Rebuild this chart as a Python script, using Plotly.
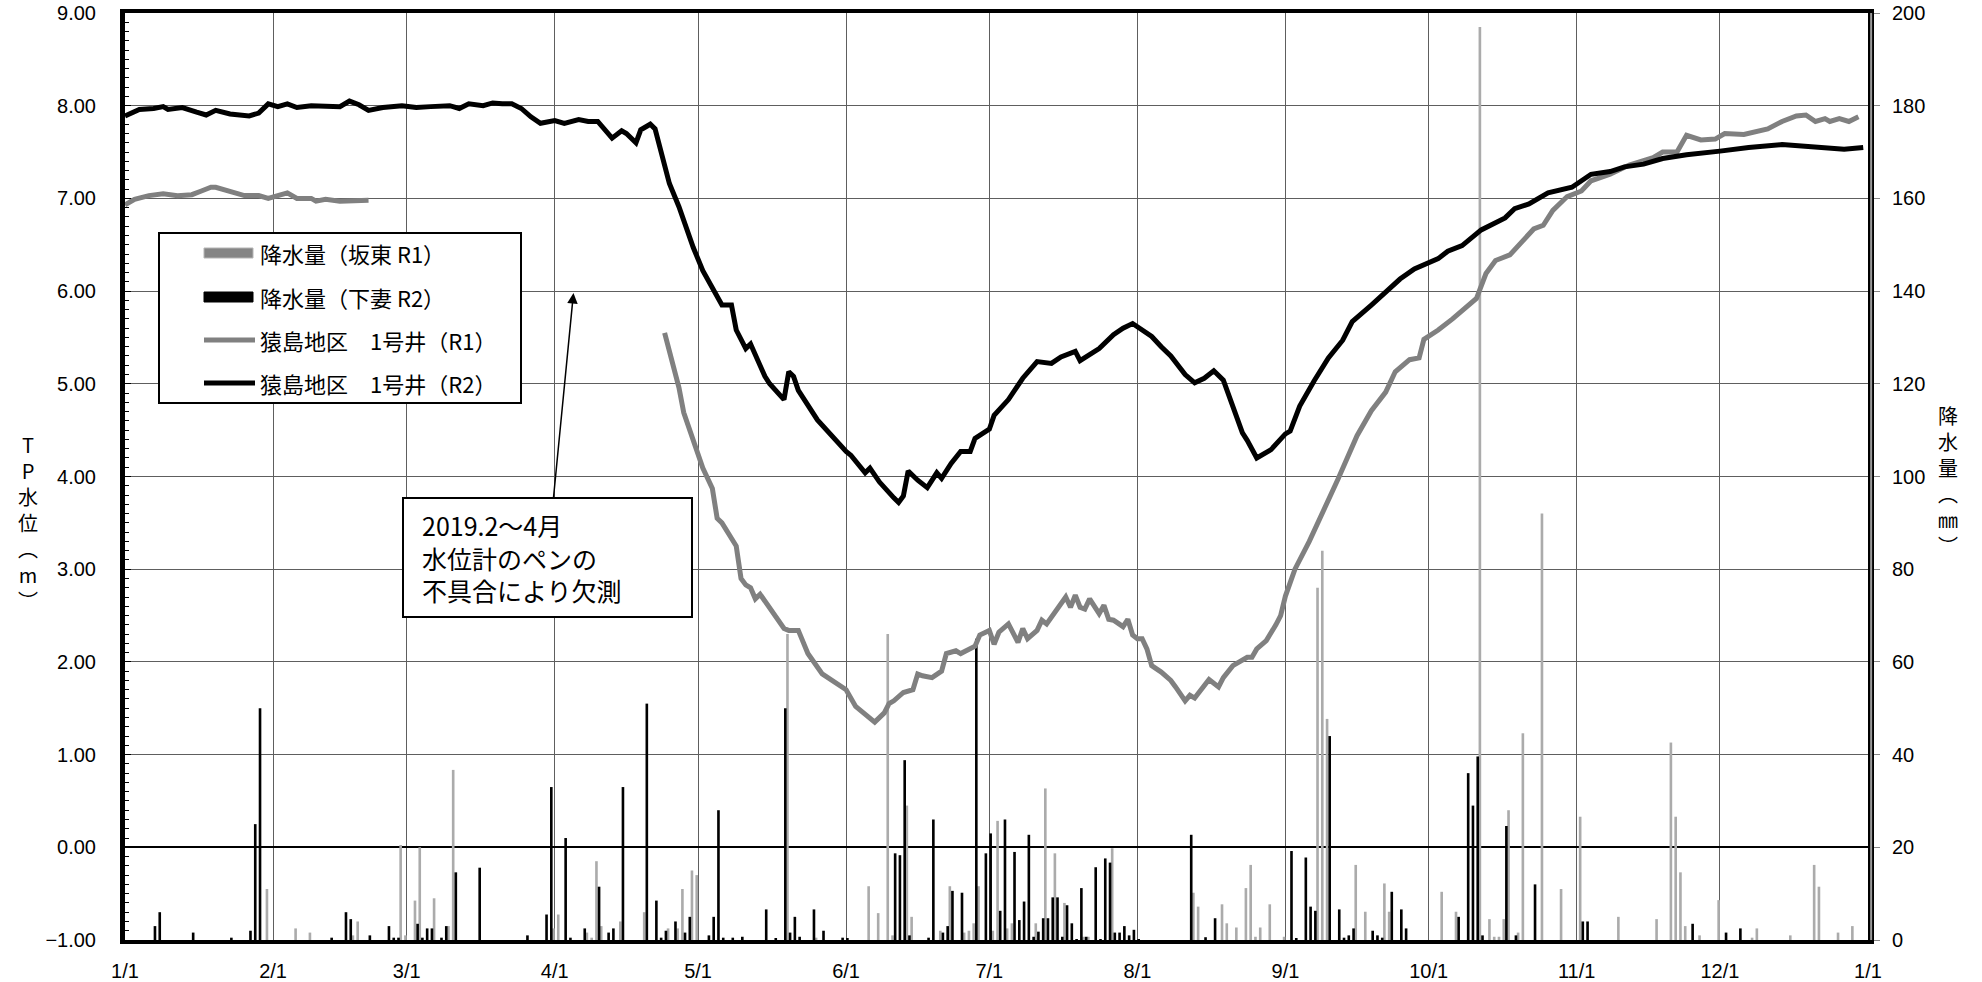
import plotly.graph_objects as go

YEAR = '2019-'
DAY = 86400000

# 猿島地区 1号井 (R2) - black line
r2_days = ['01-01', '01-04', '01-07', '01-09', '01-10', '01-13', '01-16', '01-18', '01-20', '01-23',
           '01-27', '01-29', '01-31', '02-02', '02-04', '02-06', '02-09', '02-12', '02-15', '02-17',
           '02-19', '02-21', '02-24', '02-28', '03-03', '03-06', '03-10', '03-12', '03-14', '03-17',
           '03-19', '03-21', '03-23', '03-25', '03-27', '03-29', '04-01', '04-03', '04-06', '04-08',
           '04-10', '04-13', '04-15', '04-16', '04-18', '04-19', '04-21', '04-22', '04-23', '04-25',
           '04-27', '04-30', '05-02', '05-06', '05-08', '05-09', '05-11', '05-12', '05-15', '05-16',
           '05-19', '05-20', '05-21', '05-22', '05-26', '05-28', '06-01', '06-02', '06-05', '06-06',
           '06-08', '06-11', '06-12', '06-13', '06-14', '06-16', '06-18', '06-20', '06-21', '06-23',
           '06-25', '06-27', '06-28', '07-01', '07-02', '07-05', '07-08', '07-11', '07-14', '07-16',
           '07-19', '07-20', '07-24', '07-27', '07-29', '07-31', '08-04', '08-06', '08-08', '08-11',
           '08-13', '08-15', '08-17', '08-19', '08-21', '08-23', '08-24', '08-26', '08-29', '09-01',
           '09-02', '09-04', '09-07', '09-10', '09-13', '09-15', '09-19', '09-23', '09-25', '09-28',
           '10-03', '10-05', '10-08', '10-12', '10-17', '10-19', '10-22', '10-26', '10-31', '11-04',
           '11-08', '11-11', '11-15', '11-19', '11-24', '12-01', '12-07', '12-14', '12-20', '12-25',
           '12-27', '12-31']
r2_level = [7.89, 7.96, 7.97, 7.99, 7.96, 7.98, 7.93, 7.90, 7.95, 7.91,
            7.89, 7.92, 8.02, 7.99, 8.02, 7.98, 8.00, 7.99, 7.99, 8.05,
            8.01, 7.95, 7.98, 8.00, 7.98, 7.99, 8.00, 7.97, 8.02, 8.00,
            8.03, 8.02, 8.02, 7.97, 7.88, 7.81, 7.84, 7.81, 7.85, 7.83,
            7.83, 7.65, 7.73, 7.70, 7.60, 7.74, 7.80, 7.75, 7.55, 7.16,
            6.91, 6.47, 6.22, 5.85, 5.85, 5.58, 5.38, 5.43, 5.08, 5.00,
            4.83, 5.13, 5.08, 4.93, 4.61, 4.49, 4.27, 4.23, 4.04, 4.09,
            3.94, 3.77, 3.72, 3.79, 4.06, 3.96, 3.88, 4.04, 3.98, 4.14,
            4.27, 4.27, 4.41, 4.51, 4.66, 4.83, 5.06, 5.24, 5.22, 5.29,
            5.35, 5.25, 5.38, 5.53, 5.60, 5.65, 5.51, 5.40, 5.30, 5.10,
            5.01, 5.06, 5.14, 5.04, 4.74, 4.47, 4.39, 4.20, 4.29, 4.46,
            4.49, 4.76, 5.03, 5.28, 5.47, 5.67, 5.85, 6.04, 6.13, 6.24,
            6.35, 6.43, 6.49, 6.66, 6.79, 6.89, 6.94, 7.06, 7.12, 7.26,
            7.29, 7.34, 7.37, 7.43, 7.47, 7.51, 7.55, 7.58, 7.56, 7.55,
            7.53, 7.55]

# 猿島地区 1号井 (R1) - grey line, missing 2019.2-4
r1_days = ['01-01', '01-03', '01-06', '01-09', '01-12', '01-15', '01-17', '01-19', '01-20', '01-23',
           '01-26', '01-29', '01-31', '02-02', '02-04', '02-06', '02-09', '02-10', '02-12', '02-15',
           '02-18', '02-21', '03-01',
           '04-24', '04-26', '04-27', '04-28', '04-30', '05-01', '05-02', '05-04', '05-05', '05-06',
           '05-09', '05-10', '05-11', '05-12', '05-13', '05-14', '05-17', '05-19', '05-20', '05-22',
           '05-24', '05-27', '06-01', '06-03', '06-07', '06-09', '06-10', '06-11', '06-13', '06-15',
           '06-16', '06-17', '06-19', '06-21', '06-22', '06-24', '06-25', '06-28', '06-29', '07-01',
           '07-02', '07-03', '07-05', '07-07', '07-08', '07-09', '07-11', '07-12', '07-13', '07-15',
           '07-17', '07-18', '07-19', '07-20', '07-21', '07-22', '07-24', '07-25', '07-26', '07-27',
           '07-29', '07-30', '07-31', '08-01', '08-02', '08-03', '08-04', '08-06', '08-08', '08-09',
           '08-11', '08-12', '08-13', '08-16', '08-18', '08-19', '08-21', '08-24', '08-25', '08-26',
           '08-28', '08-30', '08-31', '09-01', '09-03', '09-06', '09-09', '09-12', '09-16', '09-19',
           '09-22', '09-24', '09-27', '09-29', '09-30', '10-03', '10-06', '10-09', '10-11', '10-13',
           '10-15', '10-18', '10-20', '10-23', '10-25', '10-27', '10-30', '11-02', '11-04', '11-08',
           '11-12', '11-17', '11-19', '11-22', '11-24', '11-27', '11-30', '12-02', '12-06', '12-11',
           '12-14', '12-17', '12-19', '12-21', '12-23', '12-24', '12-26', '12-28', '12-30']
r1_level = [6.93, 6.99, 7.03, 7.05, 7.03, 7.04, 7.08, 7.12, 7.12, 7.07,
            7.03, 7.03, 7.00, 7.03, 7.06, 7.00, 7.00, 6.97, 6.99, 6.97,
            6.98, 6.98, None,
            5.55, 5.18, 4.96, 4.69, 4.39, 4.23, 4.09, 3.87, 3.55, 3.50,
            3.25, 2.90, 2.83, 2.80, 2.68, 2.73, 2.51, 2.36, 2.34, 2.34,
            2.09, 1.87, 1.70, 1.52, 1.35, 1.45, 1.55, 1.58, 1.67, 1.70,
            1.87, 1.85, 1.83, 1.90, 2.09, 2.12, 2.09, 2.17, 2.29, 2.34,
            2.19, 2.32, 2.41, 2.21, 2.36, 2.25, 2.34, 2.45, 2.41, 2.55,
            2.70, 2.59, 2.72, 2.59, 2.57, 2.68, 2.52, 2.61, 2.46, 2.45,
            2.38, 2.46, 2.29, 2.25, 2.25, 2.14, 1.96, 1.89, 1.80, 1.73,
            1.58, 1.64, 1.61, 1.81, 1.73, 1.83, 1.96, 2.05, 2.05, 2.14,
            2.23, 2.40, 2.50, 2.71, 3.00, 3.30, 3.62, 3.97, 4.44, 4.71,
            4.91, 5.13, 5.26, 5.28, 5.48, 5.58, 5.70, 5.83, 5.92, 6.19,
            6.33, 6.39, 6.51, 6.67, 6.71, 6.87, 7.02, 7.08, 7.19, 7.26,
            7.36, 7.44, 7.50, 7.50, 7.68, 7.63, 7.64, 7.70, 7.69, 7.75,
            7.83, 7.89, 7.90, 7.83, 7.86, 7.83, 7.86, 7.83, 7.88]

# 降水量 (坂東 R1) mm
rain_r1_days = ['01-31', '02-06', '02-09', '02-18', '02-19', '02-28', '03-01', '03-03', '03-04', '03-07',
                '03-10', '03-11', '04-01', '04-02', '04-08', '04-09', '04-10', '04-11', '04-15', '04-20',
                '04-25', '04-27', '04-28', '04-30', '05-01', '05-20', '05-26', '06-06', '06-08', '06-10',
                '06-11', '06-14', '06-15', '06-21', '06-23', '06-26', '06-27', '06-28', '06-29', '07-02',
                '07-03', '07-05', '07-06', '07-11', '07-13', '07-15', '07-17', '07-21', '07-22', '07-27',
                '08-13', '08-14', '08-19', '08-20', '08-22', '08-24', '08-25', '08-26', '08-27', '08-29',
                '09-01', '09-08', '09-09', '09-10', '09-16', '09-18', '09-22', '09-23', '10-04', '10-07',
                '10-12', '10-14', '10-15', '10-16', '10-17', '10-18', '10-20', '10-21', '10-25', '10-29',
                '11-02', '11-10', '11-18', '11-21', '11-22', '11-23', '11-24', '11-27', '12-01', '12-08',
                '12-09', '12-16', '12-21', '12-22', '12-26', '12-29']
rain_r1_mm = [11, 2.5, 1.6, 1, 4, 20.5, 1, 8.5, 20, 9,
              3, 36.7, 2.5, 5.5, 1.6, 0.5, 17, 3, 4, 6,
              2.5, 2.5, 11, 15, 14, 66, 0.5, 11.6, 5.8, 66,
              1, 29, 5, 2, 11.6, 1.6, 2, 3.6, 11.6, 2,
              25.7, 2.5, 3.6, 3.6, 32.7, 18.7, 8, 0.7, 0.7, 19.8,
              10.2, 7.2, 7.7, 3.6, 2.7, 11.2, 16.2, 0.7, 2.7, 7.7,
              0.7, 76, 84, 47.7, 16.2, 6.1, 12.2, 6.1, 10.4, 6.1,
              197, 4.5, 0.7, 0.7, 4.5, 28, 1.6, 44.6, 92, 11,
              26.6, 5, 4.5, 42.6, 26.6, 14.6, 3, 1, 8.6, 0.5,
              2.5, 1, 16.2, 11.5, 1.6, 3]

# 降水量 (下妻 R2) mm
rain_r2_days = ['01-07', '01-08', '01-15', '01-23', '01-27', '01-28', '01-29', '02-13', '02-16', '02-17',
                '02-21', '02-25', '02-26', '02-27', '03-03', '03-04', '03-05', '03-06', '03-08', '03-09',
                '03-11', '03-16', '03-26', '03-30', '03-31', '04-03', '04-04', '04-07', '04-10', '04-12',
                '04-13', '04-15', '04-20', '04-22', '04-23', '04-24', '04-26', '04-28', '04-29', '05-03',
                '05-04', '05-05', '05-06', '05-08', '05-10', '05-15', '05-17', '05-19', '05-20', '05-21',
                '05-22', '05-25', '05-27', '05-31', '06-01', '06-11', '06-12', '06-13', '06-14', '06-18',
                '06-19', '06-21', '06-22', '06-23', '06-25', '06-28', '06-30', '07-01', '07-03', '07-04',
                '07-06', '07-07', '07-08', '07-09', '07-10', '07-11', '07-12', '07-13', '07-14', '07-15',
                '07-16', '07-17', '07-18', '07-19', '07-20', '07-21', '07-23', '07-24', '07-25', '07-26',
                '07-27', '07-28', '07-29', '07-30', '07-31', '08-01', '08-12', '08-15', '08-17', '09-02',
                '09-03', '09-05', '09-06', '09-07', '09-10', '09-12', '09-13', '09-14', '09-15', '09-19',
                '09-20', '09-21', '09-23', '09-25', '09-26', '10-07', '10-09', '10-10', '10-11', '10-12',
                '10-17', '10-19', '10-23', '11-02', '11-03', '11-25', '12-02', '12-05']
rain_r2_mm = [3, 6, 1.6, 0.5, 2, 25, 50, 0.5, 6, 4.5,
              1, 3, 0.5, 0.5, 3.5, 0.5, 2.5, 2.5, 0.5, 3,
              14.6, 15.6, 1, 5.5, 33, 22, 0.5, 2.5, 11.5, 1.6,
              2.5, 33, 51, 8.5, 0.5, 2, 4, 1.6, 5, 1,
              5, 28, 0.5, 0.5, 0.7, 6.6, 0.3, 50, 1.6, 5,
              0.7, 6.6, 2, 0.5, 0.4, 18.7, 18.3, 38.8, 1, 0.5,
              26, 1.6, 3, 10.6, 10.2, 65, 18.7, 23, 6.3, 26,
              19, 4.3, 8.3, 22.7, 0.7, 1.8, 4.7, 4.7, 9.2, 9.2,
              0.7, 7.5, 3.6, 0.2, 11.2, 0.7, 15.7, 0.2, 17.6, 16.7,
              1.6, 1.6, 3, 1, 2.2, 0.2, 22.7, 0.6, 4.7, 19.2,
              0.3, 17.8, 7.2, 6.3, 44, 6.6, 0.5, 1, 2.5, 2,
              1, 0.5, 10.4, 6.6, 2.5, 5, 36, 29, 39.6, 1,
              24.6, 1, 12, 4, 4, 3.5, 1.6, 2.5]

month_ticks = ['2019-%02d-01' % m for m in range(1, 13)] + ['2020-01-01']
month_labels = ['%d/1' % m for m in range(1, 13)] + ['1/1']

legend_labels = ['降水量（坂東 R1）', '降水量（下妻 R2）', '猿島地区　1号井（R1）', '猿島地区　1号井（R2）']

JP = 'Noto Sans CJK JP'
NUM = 'Liberation Sans, Arial'
GRID = '#5e5e5e'

fig = go.Figure()

# rainfall bars on the right axis (drawn first so the water level lines sit on top)
fig.add_bar(x=[YEAR + d for d in rain_r1_days], y=rain_r1_mm, yaxis='y',
            marker=dict(color='#ababab', line_width=0), width=DAY * 0.55, offset=-DAY * 0.55,
            name=legend_labels[0], showlegend=False)
fig.add_bar(x=[YEAR + d for d in rain_r2_days], y=rain_r2_mm, yaxis='y',
            marker=dict(color='black', line_width=0), width=DAY * 0.55, offset=0,
            name=legend_labels[1], showlegend=False)

# water levels on the left axis
fig.add_scatter(x=[YEAR + d for d in r1_days], y=r1_level, yaxis='y2', mode='lines',
                line=dict(color='#808080', width=5), connectgaps=False,
                name=legend_labels[2], showlegend=False)
fig.add_scatter(x=[YEAR + d for d in r2_days], y=r2_level, yaxis='y2', mode='lines',
                line=dict(color='black', width=5),
                name=legend_labels[3], showlegend=False)

fig.update_layout(
    width=1982, height=982,
    margin=dict(l=125, r=114, t=13, b=42, autoexpand=False),
    paper_bgcolor='white', plot_bgcolor='white',
    barmode='overlay',
    font=dict(family=NUM, size=20, color='black'),
    xaxis=dict(type='date', range=['2019-01-01', '2020-01-01'], automargin=False,
               tickvals=month_ticks, ticktext=month_labels, ticks='',
               showgrid=True, gridcolor=GRID, gridwidth=1,
               showline=True, linecolor='black', linewidth=4, mirror=True,
               tickfont=dict(family=NUM, size=20), ticklabelstandoff=10),
    yaxis=dict(side='right', range=[0, 200], dtick=20, showgrid=False, zeroline=False,
               automargin=False,
               showline=True, linecolor='black', linewidth=6,
               ticks='outside', ticklen=6, tickcolor='#888888',
               tickfont=dict(family=NUM, size=20), ticklabelstandoff=8),
    yaxis2=dict(side='left', overlaying='y', range=[-1, 9], dtick=1, tickformat='.2f',
                automargin=False,
                showgrid=True, gridcolor=GRID, gridwidth=1,
                zeroline=True, zerolinecolor='black', zerolinewidth=1.5,
                showline=True, linecolor='black', linewidth=5,
                ticks='inside', ticklen=6, tickcolor='black',
                minor=dict(ticks='inside', dtick=0.1, ticklen=4, tickcolor='black', showgrid=False),
                tickfont=dict(family=NUM, size=20), ticklabelstandoff=20),
)

shapes = []
annotations = []

# right border has a grey stripe inside the black frame
shapes.append(dict(type='line', xref='paper', yref='paper', x0=1.0018, x1=1.0018, y0=0, y1=1,
                   line=dict(color='#9a9a9a', width=2)))

# legend box
def px_x(p):
    return (p - 125) / 1743.0

def px_y(p):
    return (940 - p) / 927.0

shapes.append(dict(type='rect', xref='paper', yref='paper', x0=px_x(159), x1=px_x(521),
                   y0=px_y(403), y1=px_y(233), fillcolor='white', line=dict(color='black', width=2)))
rows = [253, 297, 340, 383]
shapes.append(dict(type='rect', xref='paper', yref='paper', x0=px_x(204), x1=px_x(253),
                   y0=px_y(rows[0] + 5), y1=px_y(rows[0] - 5), fillcolor='#858585',
                   line=dict(color='#b5b5b5', width=1)))
shapes.append(dict(type='rect', xref='paper', yref='paper', x0=px_x(204), x1=px_x(253),
                   y0=px_y(rows[1] + 5), y1=px_y(rows[1] - 5), fillcolor='black',
                   line=dict(color='black', width=1)))
shapes.append(dict(type='line', xref='paper', yref='paper', x0=px_x(204), x1=px_x(255),
                   y0=px_y(rows[2]), y1=px_y(rows[2]), line=dict(color='#808080', width=5)))
shapes.append(dict(type='line', xref='paper', yref='paper', x0=px_x(204), x1=px_x(255),
                   y0=px_y(rows[3]), y1=px_y(rows[3]), line=dict(color='black', width=5)))
for row, label in zip(rows, legend_labels):
    annotations.append(dict(xref='paper', yref='paper', x=px_x(258), y=px_y(row), text=label,
                            showarrow=False, xanchor='left', yanchor='middle',
                            font=dict(family=JP, size=22, color='black')))

# note box with arrow
shapes.append(dict(type='rect', xref='paper', yref='paper', x0=px_x(403), x1=px_x(692),
                   y0=px_y(617), y1=px_y(498), fillcolor='white', line=dict(color='black', width=2)))
annotations.append(dict(xref='paper', yref='paper', x=px_x(420), y=px_y(557),
                        text='2019.2～4月<br>水位計のペンの<br>不具合により欠測',
                        showarrow=False, xanchor='left', yanchor='middle', align='left',
                        font=dict(family=JP, size=25, color='black')))
annotations.append(dict(xref='x', yref='y2', x='2019-04-04 22:00', y=5.98,
                        axref='x', ayref='y2', ax='2019-03-31 17:00', ay=3.76,
                        text='', showarrow=True, arrowhead=2, arrowsize=1.4, arrowwidth=1.5,
                        arrowcolor='black', standoff=0))

# axis titles, written vertically
annotations.append(dict(xref='paper', yref='paper', x=px_x(28), y=px_y(522),
                        text='T<br>P<br>水<br>位<br>︵<br>m<br>︶', showarrow=False,
                        xanchor='center', yanchor='middle',
                        font=dict(family=JP, size=20, color='black')))
annotations.append(dict(xref='paper', yref='paper', x=px_x(1948), y=px_y(480),
                        text='降<br>水<br>量<br>︵<br>㎜<br>︶', showarrow=False,
                        xanchor='center', yanchor='middle',
                        font=dict(family=JP, size=20, color='black')))

fig.update_layout(shapes=shapes, annotations=annotations)

fig.write_html('out.html', config={'displayModeBar': False},
               post_script="document.body.style.margin='0';")
